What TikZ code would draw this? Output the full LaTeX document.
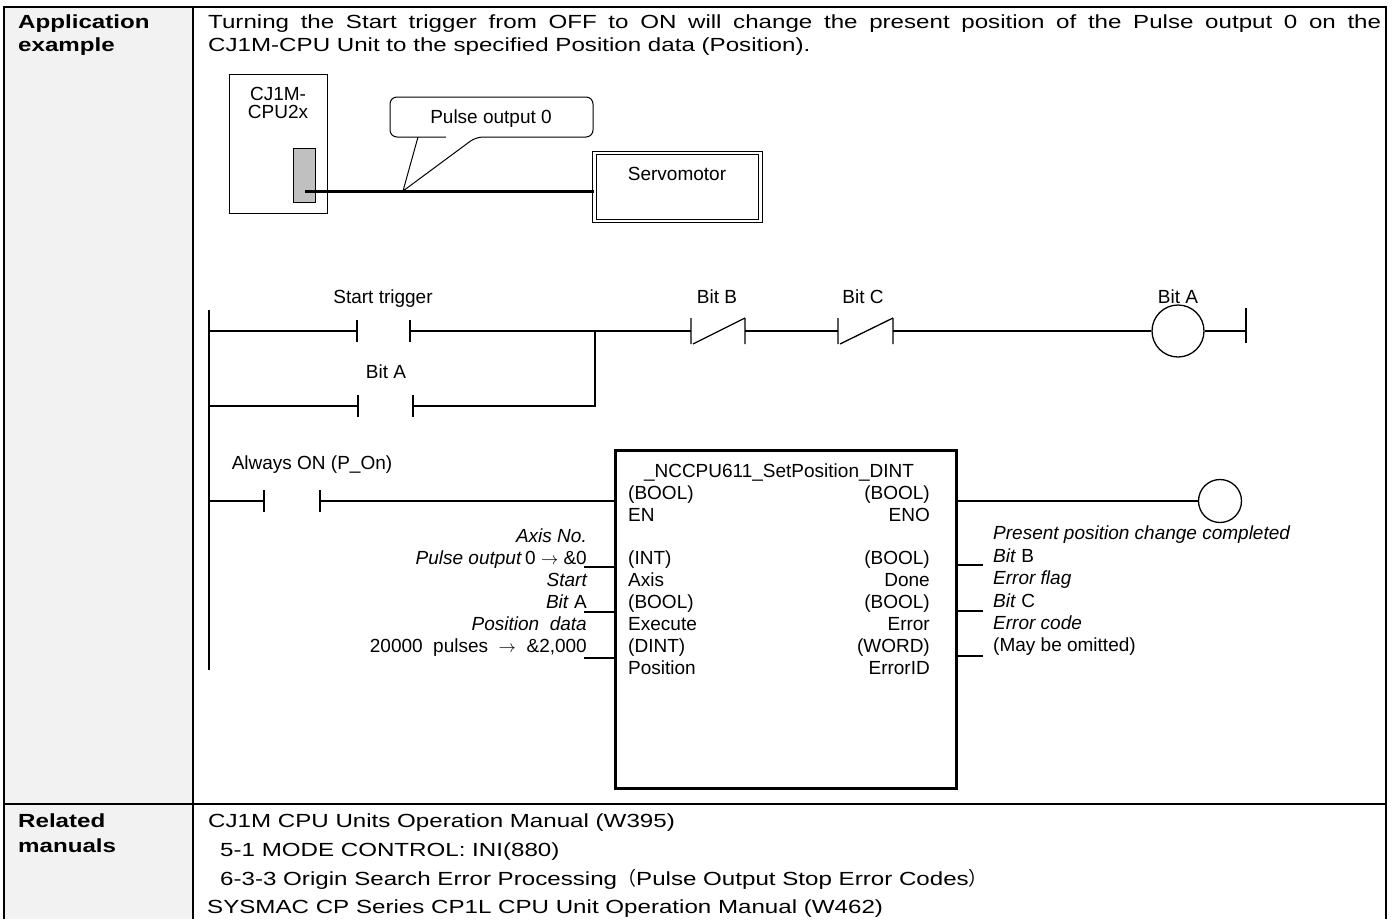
\documentclass[tikz,border=0pt]{standalone}
\usepackage{fontspec}
\setmainfont{Liberation Sans}
\newfontfamily\widesans[FakeStretch=1.27]{Liberation Sans}
\newfontfamily\cjk{Noto Sans CJK JP}
\usetikzlibrary{positioning,calc}
\definecolor{headfill}{HTML}{F2F2F2}
\definecolor{slotgray}{HTML}{C0C0C0}
\newcommand\txtsize{\fontsize{19}{22}\selectfont}
\newcommand\tblsize{\widesans\fontsize{19}{23}\selectfont}

\begin{document}
\begin{tikzpicture}[x=1pt,y=-1pt,line cap=butt,line join=miter,
  every node/.style={inner sep=0pt,font=\txtsize},
  frame/.style={line width=2.2pt},
  rung/.style={line width=1.3pt},
  cable/.style={line width=3pt},
  head/.style={anchor=base west,font=\tblsize\bfseries},
  tbl/.style={anchor=base west,font=\tblsize},
  lbl/.style={anchor=base},
  coil/.style={draw,circle,line width=1.3pt},
  fb/.style={draw,line width=3pt,minimum width=341pt,minimum height=338pt}]
\useasboundingbox (0,0) rectangle (1396,919);

% table
\fill[headfill] (4,7) rectangle (193,919);
\draw[frame] (4,919) -- (4,7) -- (1386,7) -- (1386,919);
\draw[frame] (193,7) -- (193,919);
\draw[frame] (4,804) -- (1386,804);
\node[head] (apphead1) at (18,28) {Application};
\node[head] (apphead2) at (18,51) {example};
\node[head] (manhead1) at (18,827) {Related};
\node[head] (manhead2) at (18,852) {manuals};
\node[tbl] (intro1) at (208,28) {\makebox[1173pt][s]{Turning the Start trigger from OFF to ON will change the present position of the Pulse output 0 on the}};
\node[tbl] (intro2) at (208,51) {CJ1M-CPU Unit to the specified Position data (Position).};

% unit and motor
\node[draw,line width=1pt,minimum width=98pt,minimum height=139pt] (cpu) at (278,143.5) {};
\node[lbl] (cpu1) at (278,100) {CJ1M-};
\node[lbl] (cpu2) at (278,118) {CPU2x};
\node[draw,line width=1pt,fill=slotgray,minimum width=22pt,minimum height=54pt] (slot) at (304,175) {};
\node[draw,double,double distance=2.6pt,line width=1.1pt,minimum width=166pt,minimum height=68pt] (servo) at (677.5,187) {};
\node[lbl] (servolbl) at (677,180) {Servomotor};
\coordinate (plug) at (305,191);
\coordinate (tip) at (403,191);
\draw[cable] (plug) -- (plug -| servo.west);
\filldraw[fill=white,line width=1pt,rounded corners=7pt] (446,137) -- (390,137) -- (390,97) -- (593,97) -- (593,137) -- (476,137) [sharp corners] -- (tip) -- (418,137) -- (446,137);
\node[lbl] (pulselbl) at (491,123) {Pulse output 0};

% rung 1 and branch
\coordinate (railtop) at (209,310);
\coordinate (railbot) at (209,670);
\draw[rung] (railtop) -- (railbot);
\coordinate (r1) at (209,331);
\coordinate (st1) at (357,331);
\coordinate (st2) at (410,331);
\coordinate (j1) at (595,331);
\coordinate (bb1) at (691,331);
\coordinate (bb2) at (745,331);
\coordinate (bc1) at (838,331);
\coordinate (bc2) at (893,331);
\node[coil,minimum size=52pt] (coilA) at (1178,331) {};
\coordinate (rr1) at (1246,331);
\draw[rung] (r1) -- (st1) (st2) -- (bb1) (bb2) -- (bc1) (bc2) -- (coilA) (coilA) -- (rr1);
\draw[rung] ($(rr1)+(0,-23)$) -- ($(rr1)+(0,12)$);
\coordinate (r2) at (209,406);
\coordinate (ba1) at (358,406);
\coordinate (ba2) at (413,406);
\coordinate (j2) at (595,406);
\draw[rung] (r2) -- (ba1) (ba2) -- (j2) -- (j1);
\foreach \c in {st1,st2,ba1,ba2}
  \draw[rung] ($(\c)+(0,-11)$) -- ($(\c)+(0,11)$);
\foreach \a/\b in {bb1/bb2,bc1/bc2}
  \draw[rung] ($(\a)+(0,-13)$) -- ($(\a)+(0,13)$) ($(\b)+(0,-13)$) -- ($(\b)+(0,13)$)
    ($(\a)+(2,13)$) -- ($(\b)+(0,-13)$);
\node[lbl] (stlbl) at (383,303) {Start trigger};
\node[lbl] (balbl) at (386,378) {Bit A};
\node[lbl] (bblbl) at (717,303) {Bit B};
\node[lbl] (bclbl) at (863,303) {Bit C};
\node[lbl] (calbl) at (1178,303) {Bit A};

% rung with the function block
\node[fb] (fb) at (785.5,619) {};
\coordinate (r3) at (209,501);
\coordinate (ao1) at (264,501);
\coordinate (ao2) at (320,501);
\node[coil,minimum size=43pt] (coilE) at (1220,501) {};
\draw[rung] (r3) -- (ao1) (ao2) -- (ao2 -| fb.west);
\draw[rung] (fb.east |- coilE) -- (coilE);
\foreach \c in {ao1,ao2}
  \draw[rung] ($(\c)+(0,-11)$) -- ($(\c)+(0,11)$);
\node[lbl] (aolbl) at (312,469) {Always ON (P\_On)};
\foreach \y in {567,612,658}
  \draw[rung] (fb.west |- 0,\y) -- ++(-30,0);
\foreach \y in {565,611,656}
  \draw[rung] (fb.east |- 0,\y) -- ++(25,0);
\node[lbl] (fbname) at (779,477) {\_NCCPU611\_SetPosition\_DINT};
\foreach \y/\l/\r [count=\i] in {499/{(BOOL)}/{(BOOL)},521/EN/ENO,564/{(INT)}/{(BOOL)},586/Axis/Done,
    608/{(BOOL)}/{(BOOL)},630/Execute/Error,652/{(DINT)}/{(WORD)},674/Position/ErrorID}{
  \node[anchor=base west] (fbin\i) at (628,\y) {\l};
  \node[anchor=base east] (fbout\i) at (930,\y) {\r};
}
\node[anchor=base east] (in1) at (587,542) {\itshape Axis No.};
\node[anchor=base east] (in2) at (587,564) {\textit{Pulse output}\,0 $\rightarrow$ \&0};
\node[anchor=base east] (in3) at (587,586) {\itshape Start};
\node[anchor=base east] (in4) at (587,608) {\textit{Bit} A};
\node[anchor=base east] (in5) at (587,630) {\itshape Position\ \ data};
\node[anchor=base east] (in6) at (587,652) {20000\ \ pulses\ \ $\rightarrow$\ \ \&2,000};
\node[anchor=base west] (out1) at (993,539) {\itshape Present position change completed};
\node[anchor=base west] (out2) at (993,562) {\textit{Bit} B};
\node[anchor=base west] (out3) at (993,584) {\itshape Error flag};
\node[anchor=base west] (out4) at (993,607) {\textit{Bit} C};
\node[anchor=base west] (out5) at (993,629) {\itshape Error code};
\node[anchor=base west] (out6) at (993,651) {(May be omitted)};

% manuals
\node[tbl] (man1) at (208,827) {CJ1M CPU Units Operation Manual (W395)};
\node[tbl] (man2) at (220,856) {5-1 MODE CONTROL: INI(880)};
\node[tbl] (man3) at (220,885) {6-3-3 Origin Search Error Processing{\cjk（}Pulse Output Stop Error Codes{\cjk）}};
\node[tbl] (man4) at (207,913) {SYSMAC CP Series CP1L CPU Unit Operation Manual (W462)};
\end{tikzpicture}
\end{document}
